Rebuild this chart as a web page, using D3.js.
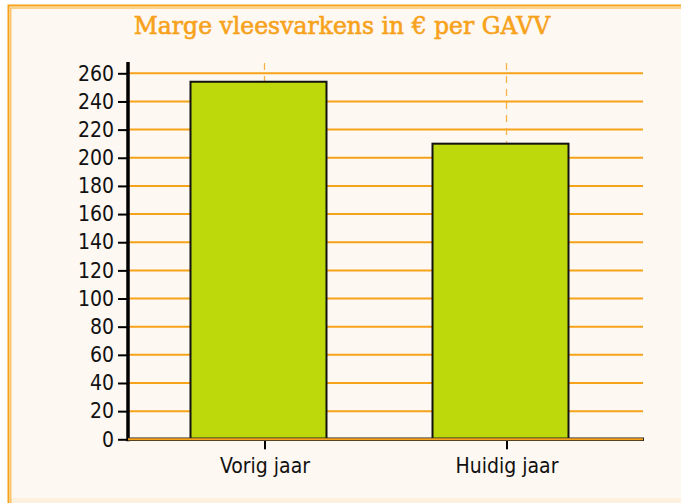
<!DOCTYPE html>
<html>
<head>
<meta charset="utf-8">
<script src="https://cdn.jsdelivr.net/npm/d3@7"></script>
<style>
  body { margin: 0; background: #ffffff; }
  svg { display: block; }
</style>
</head>
<body>
<div id="chart"></div>
<script>
// chart data
var categories = ["Vorig jaar", "Huidig jaar"];
var values = [254, 210];
var yTicks = [0, 20, 40, 60, 80, 100, 120, 140, 160, 180, 200, 220, 240, 260];
var title = "Marge vleesvarkens in € per GAVV";

var W = 681, H = 503;
var orange = "#f7a21b";

var svg = d3.select("#chart")
    .append("svg")
    .attr("width", W)
    .attr("height", H);

// frame + background
svg.append("rect")
    .attr("x", 8).attr("y", 5)
    .attr("width", W + 20).attr("height", H)
    .attr("fill", "#fdf8f1");
svg.append("rect")
    .attr("x", 11).attr("y", 498)
    .attr("width", W).attr("height", 10)
    .attr("fill", "#fcf0de");
svg.append("rect")
    .attr("x", 8.5).attr("y", 5.5)
    .attr("width", W + 20).attr("height", H + 20)
    .attr("fill", "none")
    .attr("stroke", orange)
    .attr("stroke-width", 2);
svg.append("rect")
    .attr("x", 10.8).attr("y", 8)
    .attr("width", W + 20).attr("height", H + 20)
    .attr("fill", "none")
    .attr("stroke", "#fbb84a")
    .attr("stroke-width", 1.2);

svg.append("text")
    .attr("x", 342)
    .attr("y", 34)
    .attr("text-anchor", "middle")
    .attr("fill", orange)
    .attr("stroke", orange)
    .attr("stroke-width", 0.6)
    .style("font-family", "'DejaVu Serif', serif")
    .style("font-size", "23.5px")
    .text(title);

var plotLeft = 128, plotRight = 643, plotTop = 73.3, plotBottom = 439.3;

var y = d3.scaleLinear().domain([0, 260]).range([plotBottom, plotTop]);
var x = d3.scalePoint().domain(categories).range([plotLeft, plotRight]).padding(0.564);

var labelFont = "'DejaVu Sans Condensed', 'DejaVu Sans', sans-serif";

// horizontal gridlines
svg.append("g")
  .selectAll("line")
  .data(yTicks.filter(function(d) { return d > 0; }))
  .enter()
  .append("line")
    .attr("x1", plotLeft).attr("x2", plotRight)
    .attr("y1", function(d) { return y(d); })
    .attr("y2", function(d) { return y(d); })
    .attr("stroke", orange)
    .attr("stroke-width", 2);

// dashed vertical gridlines
svg.append("g")
  .selectAll("line")
  .data(categories)
  .enter()
  .append("line")
    .attr("x1", function(d) { return x(d); })
    .attr("x2", function(d) { return x(d); })
    .attr("y1", 63).attr("y2", plotBottom)
    .attr("stroke", "#f9b24a")
    .attr("stroke-width", 1.3)
    .attr("stroke-dasharray", "7,6");

// bars
var barW = 136, barShift = -6;
svg.append("g")
  .selectAll("rect")
  .data(values)
  .enter()
  .append("rect")
    .attr("x", function(d, i) { return x(categories[i]) + barShift - barW / 2; })
    .attr("y", function(d) { return y(d); })
    .attr("width", barW)
    .attr("height", function(d) { return plotBottom - y(d); })
    .attr("fill", "#bdd80b")
    .attr("stroke", "#111")
    .attr("stroke-width", 2);

// y axis
var yAxis = svg.append("g")
    .attr("transform", "translate(" + plotLeft + ",0)")
    .call(d3.axisLeft(y).tickValues(yTicks).tickSize(10).tickPadding(4));
yAxis.select(".domain").remove();
yAxis.selectAll(".tick line").attr("stroke", "#000").attr("stroke-width", 2);
yAxis.selectAll(".tick text")
    .attr("fill", "#111")
    .style("font-family", labelFont)
    .style("font-size", "21px");
svg.append("line")
    .attr("x1", plotLeft).attr("x2", plotLeft)
    .attr("y1", 62).attr("y2", plotBottom + 2)
    .attr("stroke", "#000")
    .attr("stroke-width", 3.5);

// x axis
var xAxis = svg.append("g")
    .attr("transform", "translate(0," + plotBottom + ")")
    .call(d3.axisBottom(x).tickSize(10).tickPadding(9));
xAxis.select(".domain").remove();
xAxis.selectAll(".tick line").attr("stroke", "#000").attr("stroke-width", 2);
xAxis.selectAll(".tick text")
    .attr("fill", "#111")
    .style("font-family", labelFont)
    .style("font-size", "21px");
svg.append("line")
    .attr("x1", plotLeft).attr("x2", plotRight + 1)
    .attr("y1", plotBottom).attr("y2", plotBottom)
    .attr("stroke", "#222")
    .attr("stroke-width", 3.5);
svg.append("line")
    .attr("x1", plotLeft).attr("x2", plotRight)
    .attr("y1", plotBottom).attr("y2", plotBottom)
    .attr("stroke", orange)
    .attr("stroke-width", 2);
</script>
</body>
</html>
